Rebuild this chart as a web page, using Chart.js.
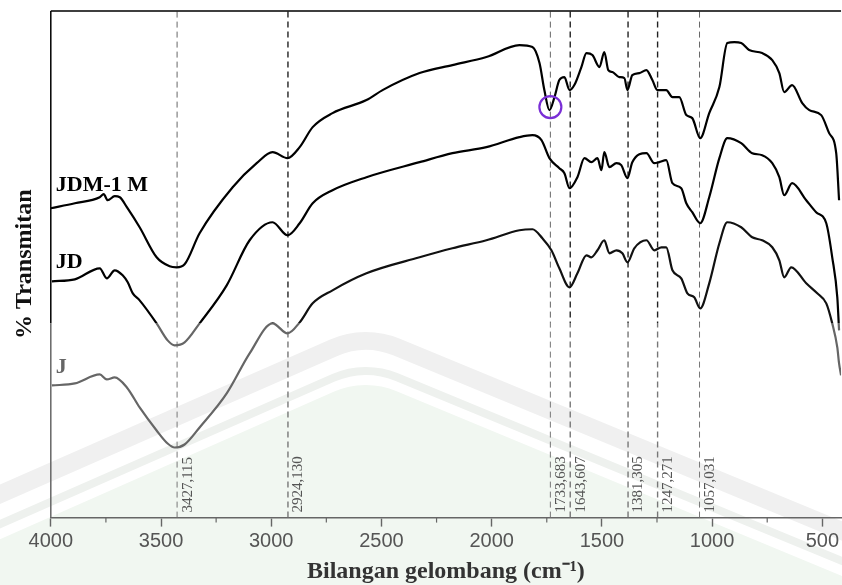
<!DOCTYPE html>
<html>
<head>
<meta charset="utf-8">
<script src="https://cdn.jsdelivr.net/npm/chart.js@4.4.0/dist/chart.umd.min.js"></script>
<style>
  html, body { margin: 0; padding: 0; background: #fff; }
  #wrap { width: 842px; height: 585px; }
</style>
</head>
<body>
<div id="wrap"><canvas id="ftirChart" width="842" height="585"></canvas></div>
<script>
// FTIR spectra (arbitrary transmittance units)
const jdm1mWave = [4000, 3891, 3778, 3760, 3742, 3710, 3687, 3655, 3597, 3520, 3461, 3429, 3393, 3325, 3175, 3066, 2994, 2926, 2871, 2812, 2722, 2568, 2495, 2327, 2178, 2024, 1874, 1815, 1783, 1761, 1738, 1715, 1693, 1670, 1647, 1625, 1593, 1570, 1543, 1511, 1489, 1471, 1452, 1421, 1398, 1384, 1362, 1330, 1298, 1271, 1248, 1208, 1180, 1149, 1117, 1090, 1054, 1013, 967, 931, 899, 868, 832, 773, 727, 695, 673, 637, 591, 559, 505, 469, 437, 424];
const jdm1mT = [309, 314, 320, 323, 317, 321, 320, 310, 290, 260, 251, 250, 253, 284, 330, 354, 365, 359, 370, 390, 404, 417, 427, 444, 452, 460, 472, 470, 454, 427, 407, 420, 437, 440, 427, 432, 450, 464, 462, 450, 465, 447, 445, 440, 439, 427, 442, 444, 447, 437, 427, 427, 420, 420, 402, 399, 379, 404, 430, 474, 475, 474, 467, 464, 457, 444, 425, 432, 414, 407, 402, 384, 364, 317];

const jdWave = [3995, 3891, 3778, 3746, 3710, 3674, 3651, 3628, 3597, 3520, 3470, 3438, 3393, 3325, 3202, 3098, 2994, 2926, 2871, 2812, 2722, 2568, 2327, 2178, 2024, 1874, 1815, 1774, 1738, 1693, 1670, 1647, 1611, 1579, 1548, 1520, 1502, 1489, 1466, 1434, 1412, 1384, 1362, 1298, 1262, 1240, 1208, 1180, 1140, 1117, 1090, 1054, 1013, 967, 931, 868, 818, 773, 727, 695, 673, 637, 573, 528, 482, 455, 432, 424];
const jdT = [236, 238, 249, 239, 247, 242, 235, 224, 217, 194, 177, 172, 175, 194, 232, 277, 295, 282, 294, 314, 327, 340, 355, 364, 370, 380, 382, 377, 359, 349, 344, 329, 340, 359, 355, 359, 347, 365, 350, 354, 352, 339, 355, 364, 354, 355, 357, 334, 329, 314, 305, 294, 320, 359, 379, 374, 364, 362, 354, 340, 322, 334, 317, 305, 294, 260, 220, 187];

const jWave = [3995, 3891, 3778, 3746, 3710, 3655, 3597, 3520, 3470, 3438, 3393, 3325, 3202, 3098, 2994, 2926, 2871, 2812, 2722, 2568, 2327, 2178, 2024, 1874, 1815, 1770, 1729, 1693, 1647, 1611, 1570, 1548, 1520, 1489, 1466, 1434, 1407, 1384, 1353, 1298, 1262, 1230, 1208, 1180, 1140, 1112, 1081, 1054, 1013, 967, 931, 868, 818, 773, 727, 695, 673, 641, 573, 523, 482, 455, 432, 424, 415];
const jT = [132, 134, 143, 138, 140, 130, 110, 87, 74, 70, 73, 90, 124, 164, 194, 184, 195, 214, 227, 244, 260, 269, 277, 287, 288, 279, 267, 249, 230, 244, 262, 260, 267, 277, 264, 267, 264, 255, 269, 277, 267, 270, 270, 247, 239, 224, 220, 209, 234, 274, 295, 290, 280, 277, 270, 257, 240, 250, 234, 224, 214, 194, 170, 154, 142];

const seriesNames = ['JDM-1 M', 'JD', 'J'];

// marked bands
const peakWaves = [3427.115, 2924.130, 1733.683, 1643.607, 1381.305, 1247.271, 1057.031];
const peakLabels = ['3427,115', '2924,130', '1733,683', '1643,607', '1381,305', '1247,271', '1057,031'];
const peakDark = [false, true, false, true, true, true, false];

const xTicks = [4000, 3500, 3000, 2500, 2000, 1500, 1000, 500];
const xMinorTicks = [3750, 3250, 2750, 2250, 1750, 1250, 750];

const circledBand = { x: 1733.683, y: 410 };

const X_MIN = 415, X_MAX = 4000, Y_MIN = 0, Y_MAX = 506;
const SPLIT_T = 194; // below this level the scan is grey

function toPoints(xs, ys) {
    return xs.map((x, i) => ({ x: x, y: ys[i] }));
}

// black above the split line, grey below (as in the scanned figure)
function splitColor(top, bottom) {
    return function (ctx) {
        const chart = ctx.chart;
        const area = chart.chartArea;
        if (!area) return top;
        const yy = chart.scales.y.getPixelForValue(SPLIT_T);
        let t = (yy - area.top) / (area.bottom - area.top);
        t = Math.min(Math.max(t, 0), 1);
        const g = chart.ctx.createLinearGradient(0, area.top, 0, area.bottom);
        g.addColorStop(0, top);
        g.addColorStop(t, top);
        g.addColorStop(t, bottom);
        g.addColorStop(1, bottom);
        return g;
    };
}

const datasets = [];

[[jdm1mWave, jdm1mT, '#000'], [jdWave, jdT, '#000'], [jWave, jT, '#111']].forEach((s, i) => {
    datasets.push({
        label: seriesNames[i], data: toPoints(s[0], s[1]),
        borderColor: splitColor(s[2], '#666'), borderWidth: 2.2,
        pointRadius: 0, cubicInterpolationMode: 'monotone', order: 1
    });
});

peakWaves.forEach((w, i) => {
    datasets.push({
        label: 'peak ' + peakLabels[i],
        data: [{ x: w, y: Y_MIN }, { x: w, y: Y_MAX }],
        borderColor: splitColor(peakDark[i] ? '#222' : '#666', '#777'),
        borderWidth: peakDark[i] ? 1.4 : 1,
        borderDash: [6, 4],
        pointRadius: 0, order: 2
    });
});

datasets.push({
    label: 'circle',
    type: 'scatter',
    data: [circledBand],
    pointStyle: 'circle',
    pointRadius: 11,
    pointBorderWidth: 2.2,
    pointBorderColor: '#7a2fd6',
    pointBackgroundColor: 'rgba(0,0,0,0)',
    order: 0
});

// faint university watermark behind the plot
const watermark = {
    id: 'watermark',
    beforeDraw(chart) {
        const c = chart.ctx;
        c.save();
        c.lineJoin = 'round';
        c.fillStyle = '#f1f7f1';
        c.beginPath();
        c.moveTo(-20, 548);
        c.arcTo(365, 378, 900, 600, 80);
        c.lineTo(900, 600);
        c.lineTo(900, 585);
        c.lineTo(-20, 585);
        c.closePath();
        c.fill();
        c.strokeStyle = '#f0f0f0';
        c.lineWidth = 18;
        c.beginPath();
        c.moveTo(-20, 503);
        c.arcTo(365, 334, 900, 555, 80);
        c.lineTo(900, 555);
        c.stroke();
        c.strokeStyle = '#eef1ee';
        c.lineWidth = 8;
        c.beginPath();
        c.moveTo(-20, 533);
        c.arcTo(365, 364, 900, 585, 80);
        c.lineTo(900, 585);
        c.stroke();
        c.restore();
    }
};

// frame, minor ticks, band labels and series names
const decorations = {
    id: 'decorations',
    afterDraw(chart) {
        const c = chart.ctx;
        const xs = chart.scales.x;
        const ys = chart.scales.y;
        const area = chart.chartArea;
        const splitY = ys.getPixelForValue(SPLIT_T);
        c.save();

        // top and left border
        c.lineWidth = 1.5;
        c.strokeStyle = '#000';
        c.beginPath();
        c.moveTo(area.left, area.top);
        c.lineTo(area.right, area.top);
        c.moveTo(area.left, area.top);
        c.lineTo(area.left, splitY);
        c.stroke();
        c.strokeStyle = '#666';
        c.beginPath();
        c.moveTo(area.left, splitY);
        c.lineTo(area.left, area.bottom);
        c.stroke();

        // minor ticks
        c.strokeStyle = '#666';
        c.lineWidth = 1.2;
        xMinorTicks.forEach(v => {
            const px = xs.getPixelForValue(v);
            c.beginPath();
            c.moveTo(px, area.bottom);
            c.lineTo(px, area.bottom + 5);
            c.stroke();
        });

        // band labels
        c.fillStyle = '#555';
        c.font = '15px "Liberation Serif"';
        c.textAlign = 'left';
        c.textBaseline = 'top';
        peakWaves.forEach((w, i) => {
            const px = xs.getPixelForValue(w);
            c.save();
            c.translate(px + 3, area.bottom - 5);
            c.rotate(-Math.PI / 2);
            c.fillText(peakLabels[i], 0, 0);
            c.restore();
        });

        // series names next to the start of each curve
        const starts = [jdm1mT[0], jdT[0], jT[0]];
        const gaps = [17, 13, 12];
        const colors = ['#000', '#000', '#666'];
        c.font = 'bold 22px "Liberation Serif"';
        c.textBaseline = 'alphabetic';
        seriesNames.forEach((name, i) => {
            c.fillStyle = colors[i];
            c.fillText(name, xs.getPixelForValue(X_MAX) + 5, ys.getPixelForValue(starts[i] + gaps[i]));
        });
        c.restore();
    }
};

const ctx = document.getElementById('ftirChart').getContext('2d');
const ftirChart = new Chart(ctx, {
    type: 'line',
    data: { datasets: datasets },
    options: {
        responsive: false,
        animation: false,
        layout: { autoPadding: false, padding: { top: 11, right: 0, bottom: 0, left: 4 } },
        plugins: {
            legend: { display: false },
            tooltip: { enabled: false }
        },
        scales: {
            x: {
                type: 'linear',
                reverse: true,
                min: X_MIN,
                max: X_MAX,
                afterBuildTicks: axis => {
                    axis.ticks = xTicks.map(v => ({ value: v }));
                },
                ticks: {
                    color: '#555',
                    padding: 3,
                    maxRotation: 0,
                    autoSkip: false,
                    font: { family: '"Liberation Sans", Arial', size: 20 },
                    callback: v => String(v)
                },
                grid: {
                    drawOnChartArea: false,
                    drawTicks: true,
                    tickLength: 9,
                    tickWidth: 1.4,
                    color: '#666'
                },
                border: { display: true, color: '#666', width: 1.6 },
                title: {
                    display: true,
                    text: 'Bilangan gelombang (cm\u207B\u00B9)',
                    color: '#333',
                    padding: { top: 2, bottom: 0 },
                    font: { family: '"Liberation Serif", "Times New Roman"', size: 24, weight: 'bold', lineHeight: 1.1 }
                }
            },
            y: {
                min: Y_MIN,
                max: Y_MAX,
                ticks: { display: false },
                grid: { display: false, drawTicks: false },
                border: { display: false },
                title: {
                    display: true,
                    text: '% Transmitan',
                    color: '#111',
                    padding: { top: 6, bottom: 12 },
                    font: { family: '"Liberation Serif", "Times New Roman"', size: 24, weight: 'bold', lineHeight: 1.2 }
                }
            }
        }
    },
    plugins: [watermark, decorations]
});
</script>
</body>
</html>
